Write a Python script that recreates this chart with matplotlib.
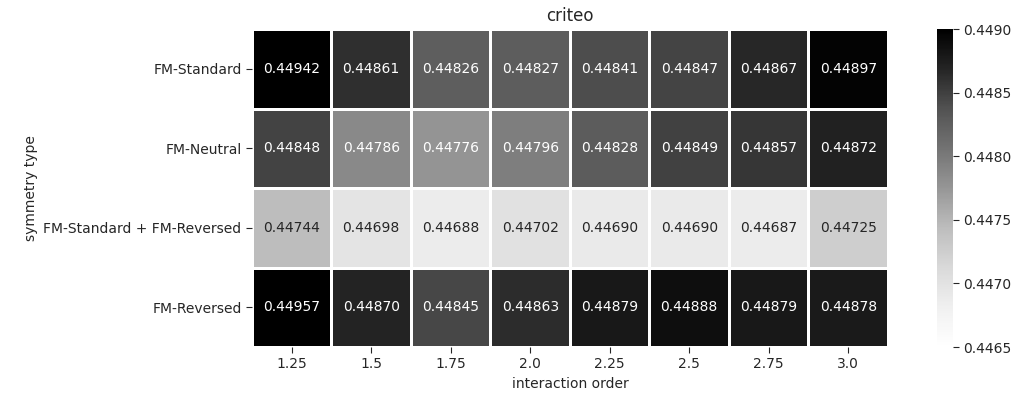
import numpy as np
import matplotlib
matplotlib.use('Agg')
import matplotlib.pyplot as plt
from matplotlib import colors

rows = ['FM-Standard', 'FM-Neutral', 'FM-Standard + FM-Reversed', 'FM-Reversed']
cols = ['1.25', '1.5', '1.75', '2.0', '2.25', '2.5', '2.75', '3.0']
fm_standard = [0.44942, 0.44861, 0.44826, 0.44827, 0.44841, 0.44847, 0.44867, 0.44897]
fm_neutral = [0.44848, 0.44786, 0.44776, 0.44796, 0.44828, 0.44849, 0.44857, 0.44872]
fm_std_rev = [0.44744, 0.44698, 0.44688, 0.44702, 0.44690, 0.44690, 0.44687, 0.44725]
fm_reversed = [0.44957, 0.44870, 0.44845, 0.44863, 0.44879, 0.44888, 0.44879, 0.44878]
cbar_ticks = [0.4465, 0.4470, 0.4475, 0.4480, 0.4485, 0.4490]

data = np.array([fm_standard, fm_neutral, fm_std_rev, fm_reversed])
vmin, vmax = 0.4465, 0.4490

txt = '#262626'
plt.rcParams['font.family'] = 'DejaVu Sans'
plt.rcParams['font.size'] = 10
plt.rcParams['text.color'] = txt
plt.rcParams['axes.labelcolor'] = txt
plt.rcParams['xtick.color'] = txt
plt.rcParams['ytick.color'] = txt

fig = plt.figure(figsize=(10.19, 3.96), dpi=100)
ax = fig.add_axes([0.2473, 0.1237, 0.6241, 0.803])
cax = fig.add_axes([0.9195, 0.1237, 0.0157, 0.803])

cmap = plt.get_cmap('Greys')
norm = colors.Normalize(vmin=vmin, vmax=vmax)
mesh = ax.pcolormesh(data, cmap=cmap, norm=norm, edgecolor='white', linewidth=1.0)
ax.set_xlim(0, len(cols))
ax.set_ylim(len(rows), 0)

# annotate, text colour from relative luminance (same rule as seaborn)
for i in range(data.shape[0]):
    for j in range(data.shape[1]):
        rgb = np.array(cmap(norm(data[i, j]))[:3])
        rgb = np.where(rgb <= .03928, rgb / 12.92, ((rgb + .055) / 1.055) ** 2.4)
        lum = rgb.dot([.2126, .7152, .0722])
        c = txt if lum > 0.408 else 'white'
        ax.text(j + 0.5, i + 0.5, '%.5f' % data[i, j], ha='center', va='center',
                color=c, fontsize=10)

ax.set_xticks(np.arange(len(cols)) + 0.5)
ax.set_xticklabels(cols)
ax.set_yticks(np.arange(len(rows)) + 0.5)
ax.set_yticklabels(rows)
for s in ax.spines.values():
    s.set_visible(False)
ax.tick_params(length=4)
ax.set_xlabel('interaction order')
ax.set_ylabel('symmetry type')
ax.set_title('criteo', fontsize=12)

cb = fig.colorbar(mesh, cax=cax, ticks=cbar_ticks)
cb.outline.set_visible(False)
cb.ax.set_yticklabels(['%.4f' % t for t in cbar_ticks])
cb.ax.tick_params(length=4)

fig.savefig('out.png', dpi=100)
